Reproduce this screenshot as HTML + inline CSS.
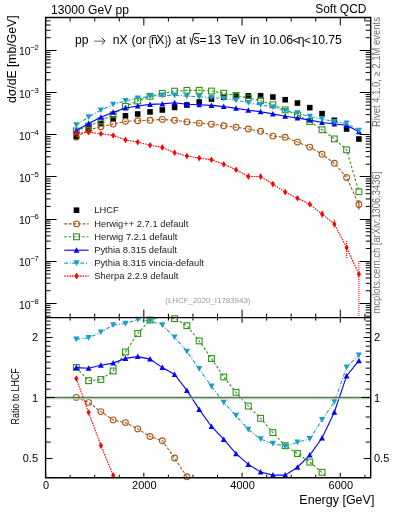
<!DOCTYPE html>
<html><head><meta charset="utf-8"><style>html,body{margin:0;padding:0;background:#fff;overflow:hidden;width:393px;height:512px;}svg{display:block;will-change:transform;}</style></head>
<body><svg width="393" height="512" viewBox="0 0 393 512"><defs><clipPath id="ct"><rect x="45.6" y="17.5" width="325.09999999999997" height="300.1"/></clipPath><clipPath id="cr"><rect x="45.6" y="317.6" width="325.09999999999997" height="160.09999999999997"/></clipPath></defs><rect x="73.50" y="133.94" width="5.6" height="5.6" fill="#000"/><rect x="85.79" y="126.15" width="5.6" height="5.6" fill="#000"/><rect x="98.07" y="120.69" width="5.6" height="5.6" fill="#000"/><rect x="110.36" y="116.30" width="5.6" height="5.6" fill="#000"/><rect x="122.65" y="113.00" width="5.6" height="5.6" fill="#000"/><rect x="134.93" y="111.20" width="5.6" height="5.6" fill="#000"/><rect x="147.22" y="109.09" width="5.6" height="5.6" fill="#000"/><rect x="159.51" y="107.16" width="5.6" height="5.6" fill="#000"/><rect x="171.80" y="104.59" width="5.6" height="5.6" fill="#000"/><rect x="184.08" y="102.22" width="5.6" height="5.6" fill="#000"/><rect x="196.37" y="99.19" width="5.6" height="5.6" fill="#000"/><rect x="208.66" y="96.24" width="5.6" height="5.6" fill="#000"/><rect x="220.94" y="94.45" width="5.6" height="5.6" fill="#000"/><rect x="233.23" y="93.40" width="5.6" height="5.6" fill="#000"/><rect x="245.52" y="93.10" width="5.6" height="5.6" fill="#000"/><rect x="257.80" y="92.97" width="5.6" height="5.6" fill="#000"/><rect x="270.09" y="94.23" width="5.6" height="5.6" fill="#000"/><rect x="282.38" y="96.93" width="5.6" height="5.6" fill="#000"/><rect x="294.67" y="100.27" width="5.6" height="5.6" fill="#000"/><rect x="306.95" y="104.84" width="5.6" height="5.6" fill="#000"/><rect x="319.24" y="110.82" width="5.6" height="5.6" fill="#000"/><rect x="331.53" y="117.47" width="5.6" height="5.6" fill="#000"/><rect x="343.81" y="126.19" width="5.6" height="5.6" fill="#000"/><rect x="356.10" y="136.20" width="5.6" height="5.6" fill="#000"/><g clip-path="url(#ct)"><polyline points="76.30,137.13 88.59,130.11 100.87,126.64 113.16,124.11 125.45,121.35 137.73,120.76 150.02,120.30 162.31,119.39 174.60,120.30 186.88,121.89 199.17,123.10 211.46,124.20 223.74,125.80 236.03,127.30 248.32,129.00 260.60,131.30 272.89,136.10 285.18,137.30 297.47,142.10 309.75,147.10 322.04,154.30 334.33,163.30 346.61,177.50 358.90,204.50" fill="none" stroke="#a85a18" stroke-width="1.1" stroke-dasharray="3,1.6"/></g><circle cx="76.30" cy="137.13" r="2.9" fill="none" stroke="#a85a18" stroke-width="1.1"/><circle cx="88.59" cy="130.11" r="2.9" fill="none" stroke="#a85a18" stroke-width="1.1"/><circle cx="100.87" cy="126.64" r="2.9" fill="none" stroke="#a85a18" stroke-width="1.1"/><circle cx="113.16" cy="124.11" r="2.9" fill="none" stroke="#a85a18" stroke-width="1.1"/><circle cx="125.45" cy="121.35" r="2.9" fill="none" stroke="#a85a18" stroke-width="1.1"/><circle cx="137.73" cy="120.76" r="2.9" fill="none" stroke="#a85a18" stroke-width="1.1"/><circle cx="150.02" cy="120.30" r="2.9" fill="none" stroke="#a85a18" stroke-width="1.1"/><circle cx="162.31" cy="119.39" r="2.9" fill="none" stroke="#a85a18" stroke-width="1.1"/><circle cx="174.60" cy="120.30" r="2.9" fill="none" stroke="#a85a18" stroke-width="1.1"/><circle cx="186.88" cy="121.89" r="2.9" fill="none" stroke="#a85a18" stroke-width="1.1"/><circle cx="199.17" cy="123.10" r="2.9" fill="none" stroke="#a85a18" stroke-width="1.1"/><circle cx="211.46" cy="124.20" r="2.9" fill="none" stroke="#a85a18" stroke-width="1.1"/><circle cx="223.74" cy="125.80" r="2.9" fill="none" stroke="#a85a18" stroke-width="1.1"/><circle cx="236.03" cy="127.30" r="2.9" fill="none" stroke="#a85a18" stroke-width="1.1"/><circle cx="248.32" cy="129.00" r="2.9" fill="none" stroke="#a85a18" stroke-width="1.1"/><circle cx="260.60" cy="131.30" r="2.9" fill="none" stroke="#a85a18" stroke-width="1.1"/><circle cx="272.89" cy="136.10" r="2.9" fill="none" stroke="#a85a18" stroke-width="1.1"/><circle cx="285.18" cy="137.30" r="2.9" fill="none" stroke="#a85a18" stroke-width="1.1"/><circle cx="297.47" cy="142.10" r="2.9" fill="none" stroke="#a85a18" stroke-width="1.1"/><circle cx="309.75" cy="147.10" r="2.9" fill="none" stroke="#a85a18" stroke-width="1.1"/><circle cx="322.04" cy="154.30" r="2.9" fill="none" stroke="#a85a18" stroke-width="1.1"/><circle cx="334.33" cy="163.30" r="2.9" fill="none" stroke="#a85a18" stroke-width="1.1"/><circle cx="346.61" cy="177.50" r="2.9" fill="none" stroke="#a85a18" stroke-width="1.1"/><circle cx="358.90" cy="204.50" r="2.9" fill="none" stroke="#a85a18" stroke-width="1.1"/><g clip-path="url(#ct)"><polyline points="76.30,130.93 88.59,126.11 100.87,120.96 113.16,114.82 125.45,106.38 137.73,100.99 150.02,96.28 162.31,93.40 174.60,91.14 186.88,90.34 199.17,90.41 211.46,91.03 223.74,93.23 236.03,95.45 248.32,98.05 260.60,100.61 272.89,104.74 285.18,109.86 297.47,115.05 309.75,121.48 322.04,129.74 334.33,138.90 346.61,149.80 358.90,191.70" fill="none" stroke="#2f9418" stroke-width="1.1" stroke-dasharray="2.5,2"/></g><rect x="73.40" y="128.03" width="5.8" height="5.8" fill="none" stroke="#2f9418" stroke-width="1.1"/><rect x="85.69" y="123.21" width="5.8" height="5.8" fill="none" stroke="#2f9418" stroke-width="1.1"/><rect x="97.97" y="118.06" width="5.8" height="5.8" fill="none" stroke="#2f9418" stroke-width="1.1"/><rect x="110.26" y="111.92" width="5.8" height="5.8" fill="none" stroke="#2f9418" stroke-width="1.1"/><rect x="122.55" y="103.48" width="5.8" height="5.8" fill="none" stroke="#2f9418" stroke-width="1.1"/><rect x="134.83" y="98.09" width="5.8" height="5.8" fill="none" stroke="#2f9418" stroke-width="1.1"/><rect x="147.12" y="93.38" width="5.8" height="5.8" fill="none" stroke="#2f9418" stroke-width="1.1"/><rect x="159.41" y="90.50" width="5.8" height="5.8" fill="none" stroke="#2f9418" stroke-width="1.1"/><rect x="171.70" y="88.24" width="5.8" height="5.8" fill="none" stroke="#2f9418" stroke-width="1.1"/><rect x="183.98" y="87.44" width="5.8" height="5.8" fill="none" stroke="#2f9418" stroke-width="1.1"/><rect x="196.27" y="87.51" width="5.8" height="5.8" fill="none" stroke="#2f9418" stroke-width="1.1"/><rect x="208.56" y="88.13" width="5.8" height="5.8" fill="none" stroke="#2f9418" stroke-width="1.1"/><rect x="220.84" y="90.33" width="5.8" height="5.8" fill="none" stroke="#2f9418" stroke-width="1.1"/><rect x="233.13" y="92.55" width="5.8" height="5.8" fill="none" stroke="#2f9418" stroke-width="1.1"/><rect x="245.42" y="95.15" width="5.8" height="5.8" fill="none" stroke="#2f9418" stroke-width="1.1"/><rect x="257.70" y="97.71" width="5.8" height="5.8" fill="none" stroke="#2f9418" stroke-width="1.1"/><rect x="269.99" y="101.84" width="5.8" height="5.8" fill="none" stroke="#2f9418" stroke-width="1.1"/><rect x="282.28" y="106.96" width="5.8" height="5.8" fill="none" stroke="#2f9418" stroke-width="1.1"/><rect x="294.57" y="112.15" width="5.8" height="5.8" fill="none" stroke="#2f9418" stroke-width="1.1"/><rect x="306.85" y="118.58" width="5.8" height="5.8" fill="none" stroke="#2f9418" stroke-width="1.1"/><rect x="319.14" y="126.84" width="5.8" height="5.8" fill="none" stroke="#2f9418" stroke-width="1.1"/><rect x="331.43" y="136.00" width="5.8" height="5.8" fill="none" stroke="#2f9418" stroke-width="1.1"/><rect x="343.71" y="146.90" width="5.8" height="5.8" fill="none" stroke="#2f9418" stroke-width="1.1"/><rect x="356.00" y="188.80" width="5.8" height="5.8" fill="none" stroke="#2f9418" stroke-width="1.1"/><g clip-path="url(#ct)"><polyline points="76.30,130.51 88.59,123.49 100.87,117.24 113.16,112.26 125.45,108.02 137.73,105.93 150.02,104.39 162.31,103.92 174.60,102.79 186.88,104.24 199.17,104.71 211.46,105.38 223.74,106.58 236.03,108.35 248.32,110.23 260.60,111.72 272.89,113.91 285.18,116.21 297.47,118.06 309.75,120.12 322.04,122.47 334.33,123.95 346.61,125.25 358.90,131.71" fill="none" stroke="#0000ff" stroke-width="1.1"/></g><path d="M73.40,133.01L79.20,133.01L76.30,127.51Z" fill="#0000ff"/><path d="M85.69,125.99L91.49,125.99L88.59,120.49Z" fill="#0000ff"/><path d="M97.97,119.74L103.77,119.74L100.87,114.24Z" fill="#0000ff"/><path d="M110.26,114.76L116.06,114.76L113.16,109.26Z" fill="#0000ff"/><path d="M122.55,110.52L128.35,110.52L125.45,105.02Z" fill="#0000ff"/><path d="M134.83,108.43L140.63,108.43L137.73,102.93Z" fill="#0000ff"/><path d="M147.12,106.89L152.92,106.89L150.02,101.39Z" fill="#0000ff"/><path d="M159.41,106.42L165.21,106.42L162.31,100.92Z" fill="#0000ff"/><path d="M171.70,105.29L177.50,105.29L174.60,99.79Z" fill="#0000ff"/><path d="M183.98,106.74L189.78,106.74L186.88,101.24Z" fill="#0000ff"/><path d="M196.27,107.21L202.07,107.21L199.17,101.71Z" fill="#0000ff"/><path d="M208.56,107.88L214.36,107.88L211.46,102.38Z" fill="#0000ff"/><path d="M220.84,109.08L226.64,109.08L223.74,103.58Z" fill="#0000ff"/><path d="M233.13,110.85L238.93,110.85L236.03,105.35Z" fill="#0000ff"/><path d="M245.42,112.73L251.22,112.73L248.32,107.23Z" fill="#0000ff"/><path d="M257.70,114.22L263.50,114.22L260.60,108.72Z" fill="#0000ff"/><path d="M269.99,116.41L275.79,116.41L272.89,110.91Z" fill="#0000ff"/><path d="M282.28,118.71L288.08,118.71L285.18,113.21Z" fill="#0000ff"/><path d="M294.57,120.56L300.37,120.56L297.47,115.06Z" fill="#0000ff"/><path d="M306.85,122.62L312.65,122.62L309.75,117.12Z" fill="#0000ff"/><path d="M319.14,124.97L324.94,124.97L322.04,119.47Z" fill="#0000ff"/><path d="M331.43,126.45L337.23,126.45L334.33,120.95Z" fill="#0000ff"/><path d="M343.71,127.75L349.51,127.75L346.61,122.25Z" fill="#0000ff"/><path d="M356.00,134.21L361.80,134.21L358.90,128.71Z" fill="#0000ff"/><g clip-path="url(#ct)"><polyline points="76.30,125.03 88.59,117.04 100.87,110.21 113.16,104.47 125.45,100.87 137.73,98.25 150.02,96.34 162.31,95.40 174.60,95.40 186.88,96.10 199.17,96.80 211.46,97.52 223.74,98.71 236.03,100.30 248.32,102.77 260.60,104.85 272.89,107.20 285.18,110.69 297.47,113.04 309.75,116.66 322.04,118.91 334.33,121.90 346.61,123.40 358.90,130.58" fill="none" stroke="#1a9ec4" stroke-width="1.1" stroke-dasharray="3.8,1.8,1,1.5"/></g><path d="M73.20,122.23L79.40,122.23L76.30,127.93Z" fill="#1a9ec4"/><path d="M85.49,114.24L91.69,114.24L88.59,119.94Z" fill="#1a9ec4"/><path d="M97.77,107.41L103.97,107.41L100.87,113.11Z" fill="#1a9ec4"/><path d="M110.06,101.67L116.26,101.67L113.16,107.37Z" fill="#1a9ec4"/><path d="M122.35,98.07L128.55,98.07L125.45,103.77Z" fill="#1a9ec4"/><path d="M134.63,95.45L140.83,95.45L137.73,101.15Z" fill="#1a9ec4"/><path d="M146.92,93.54L153.12,93.54L150.02,99.24Z" fill="#1a9ec4"/><path d="M159.21,92.60L165.41,92.60L162.31,98.30Z" fill="#1a9ec4"/><path d="M171.50,92.60L177.70,92.60L174.60,98.30Z" fill="#1a9ec4"/><path d="M183.78,93.30L189.98,93.30L186.88,99.00Z" fill="#1a9ec4"/><path d="M196.07,94.00L202.27,94.00L199.17,99.70Z" fill="#1a9ec4"/><path d="M208.36,94.72L214.56,94.72L211.46,100.42Z" fill="#1a9ec4"/><path d="M220.64,95.91L226.84,95.91L223.74,101.61Z" fill="#1a9ec4"/><path d="M232.93,97.50L239.13,97.50L236.03,103.20Z" fill="#1a9ec4"/><path d="M245.22,99.97L251.42,99.97L248.32,105.67Z" fill="#1a9ec4"/><path d="M257.50,102.05L263.70,102.05L260.60,107.75Z" fill="#1a9ec4"/><path d="M269.79,104.40L275.99,104.40L272.89,110.10Z" fill="#1a9ec4"/><path d="M282.08,107.89L288.28,107.89L285.18,113.59Z" fill="#1a9ec4"/><path d="M294.37,110.24L300.57,110.24L297.47,115.94Z" fill="#1a9ec4"/><path d="M306.65,113.86L312.85,113.86L309.75,119.56Z" fill="#1a9ec4"/><path d="M318.94,116.11L325.14,116.11L322.04,121.81Z" fill="#1a9ec4"/><path d="M331.23,119.10L337.43,119.10L334.33,124.80Z" fill="#1a9ec4"/><path d="M343.51,120.60L349.71,120.60L346.61,126.30Z" fill="#1a9ec4"/><path d="M355.80,127.78L362.00,127.78L358.90,133.48Z" fill="#1a9ec4"/><g clip-path="url(#ct)"><polyline points="76.30,133.36 88.59,132.28 100.87,133.76 113.16,135.49 125.45,139.90 137.73,142.10 150.02,145.20 162.31,147.40 174.60,152.80 186.88,156.00 199.17,158.10 211.46,159.70 223.74,164.20 236.03,169.70 248.32,176.40 260.60,176.60 272.89,184.10 285.18,192.10 297.47,198.20 309.75,204.30 322.04,214.10 334.33,224.10 346.61,247.60 358.90,274.20" fill="none" stroke="#ff0000" stroke-width="1.1" stroke-dasharray="1.6,1"/></g><path d="M76.30,130.06L78.40,133.36L76.30,136.66L74.20,133.36Z" fill="#ff0000"/><path d="M88.59,128.98L90.69,132.28L88.59,135.58L86.49,132.28Z" fill="#ff0000"/><path d="M100.87,130.46L102.97,133.76L100.87,137.06L98.77,133.76Z" fill="#ff0000"/><path d="M113.16,132.19L115.26,135.49L113.16,138.79L111.06,135.49Z" fill="#ff0000"/><path d="M125.45,136.60L127.55,139.90L125.45,143.20L123.35,139.90Z" fill="#ff0000"/><path d="M137.73,138.80L139.83,142.10L137.73,145.40L135.63,142.10Z" fill="#ff0000"/><path d="M150.02,141.90L152.12,145.20L150.02,148.50L147.92,145.20Z" fill="#ff0000"/><path d="M162.31,144.10L164.41,147.40L162.31,150.70L160.21,147.40Z" fill="#ff0000"/><path d="M174.60,149.50L176.70,152.80L174.60,156.10L172.50,152.80Z" fill="#ff0000"/><path d="M186.88,152.70L188.98,156.00L186.88,159.30L184.78,156.00Z" fill="#ff0000"/><path d="M199.17,154.80L201.27,158.10L199.17,161.40L197.07,158.10Z" fill="#ff0000"/><path d="M211.46,156.40L213.56,159.70L211.46,163.00L209.36,159.70Z" fill="#ff0000"/><path d="M223.74,160.90L225.84,164.20L223.74,167.50L221.64,164.20Z" fill="#ff0000"/><path d="M236.03,166.40L238.13,169.70L236.03,173.00L233.93,169.70Z" fill="#ff0000"/><path d="M248.32,173.10L250.42,176.40L248.32,179.70L246.22,176.40Z" fill="#ff0000"/><path d="M260.60,173.30L262.70,176.60L260.60,179.90L258.50,176.60Z" fill="#ff0000"/><path d="M272.89,180.80L274.99,184.10L272.89,187.40L270.79,184.10Z" fill="#ff0000"/><path d="M285.18,188.80L287.28,192.10L285.18,195.40L283.08,192.10Z" fill="#ff0000"/><path d="M297.47,194.90L299.57,198.20L297.47,201.50L295.37,198.20Z" fill="#ff0000"/><path d="M309.75,201.00L311.85,204.30L309.75,207.60L307.65,204.30Z" fill="#ff0000"/><path d="M322.04,210.80L324.14,214.10L322.04,217.40L319.94,214.10Z" fill="#ff0000"/><path d="M334.33,220.80L336.43,224.10L334.33,227.40L332.23,224.10Z" fill="#ff0000"/><path d="M346.61,244.30L348.71,247.60L346.61,250.90L344.51,247.60Z" fill="#ff0000"/><path d="M358.90,270.90L361.00,274.20L358.90,277.50L356.80,274.20Z" fill="#ff0000"/><line x1="358.90" y1="200" x2="358.90" y2="209.8" stroke="#a85a18" stroke-width="1.2"/><line x1="322.04" y1="210.8" x2="322.04" y2="218.4" stroke="#ff0000" stroke-width="1" stroke-dasharray="1,1"/><line x1="334.33" y1="219.5" x2="334.33" y2="228" stroke="#ff0000" stroke-width="1" stroke-dasharray="1,1"/><line x1="346.61" y1="241" x2="346.61" y2="258" stroke="#ff0000" stroke-width="1" stroke-dasharray="1,1"/><line x1="358.90" y1="261" x2="358.90" y2="317.6" stroke="#ff0000" stroke-width="1" stroke-dasharray="1,1"/><g clip-path="url(#cr)"><polyline points="76.30,397.40 88.59,402.40 100.87,411.60 113.16,419.90 125.45,422.60 137.73,428.90 150.02,436.50 162.31,440.80 174.60,458.00 186.88,476.80 199.17,497.17 211.46,516.46 223.74,532.66 236.03,544.85 248.32,554.37 260.60,565.99 272.89,582.90 285.18,575.74 297.47,582.68 309.75,584.76 322.04,590.58 334.33,601.80 346.61,627.93 358.90,709.05" fill="none" stroke="#a85a18" stroke-width="1.1" stroke-dasharray="3,1.6"/></g><circle cx="76.30" cy="397.40" r="2.9" fill="none" stroke="#a85a18" stroke-width="1.1"/><circle cx="88.59" cy="402.40" r="2.9" fill="none" stroke="#a85a18" stroke-width="1.1"/><circle cx="100.87" cy="411.60" r="2.9" fill="none" stroke="#a85a18" stroke-width="1.1"/><circle cx="113.16" cy="419.90" r="2.9" fill="none" stroke="#a85a18" stroke-width="1.1"/><circle cx="125.45" cy="422.60" r="2.9" fill="none" stroke="#a85a18" stroke-width="1.1"/><circle cx="137.73" cy="428.90" r="2.9" fill="none" stroke="#a85a18" stroke-width="1.1"/><circle cx="150.02" cy="436.50" r="2.9" fill="none" stroke="#a85a18" stroke-width="1.1"/><circle cx="162.31" cy="440.80" r="2.9" fill="none" stroke="#a85a18" stroke-width="1.1"/><circle cx="174.60" cy="458.00" r="2.9" fill="none" stroke="#a85a18" stroke-width="1.1"/><circle cx="186.88" cy="476.80" r="2.9" fill="none" stroke="#a85a18" stroke-width="1.1"/><g clip-path="url(#cr)"><polyline points="76.30,367.50 88.59,380.70 100.87,379.50 113.16,371.00 125.45,352.00 137.73,333.50 150.02,320.00 162.31,316.54 174.60,318.70 186.88,325.70 199.17,340.90 211.46,358.50 223.74,377.00 236.03,392.30 248.32,406.10 260.60,418.30 272.89,432.60 285.18,445.70 297.47,453.50 309.75,462.10 322.04,472.30 334.33,484.56 346.61,494.94 358.90,647.19" fill="none" stroke="#2f9418" stroke-width="1.1" stroke-dasharray="2.5,2"/></g><rect x="73.40" y="364.60" width="5.8" height="5.8" fill="none" stroke="#2f9418" stroke-width="1.1"/><rect x="85.69" y="377.80" width="5.8" height="5.8" fill="none" stroke="#2f9418" stroke-width="1.1"/><rect x="97.97" y="376.60" width="5.8" height="5.8" fill="none" stroke="#2f9418" stroke-width="1.1"/><rect x="110.26" y="368.10" width="5.8" height="5.8" fill="none" stroke="#2f9418" stroke-width="1.1"/><rect x="122.55" y="349.10" width="5.8" height="5.8" fill="none" stroke="#2f9418" stroke-width="1.1"/><rect x="134.83" y="330.60" width="5.8" height="5.8" fill="none" stroke="#2f9418" stroke-width="1.1"/><rect x="147.12" y="317.10" width="5.8" height="5.8" fill="none" stroke="#2f9418" stroke-width="1.1"/><rect x="171.70" y="315.80" width="5.8" height="5.8" fill="none" stroke="#2f9418" stroke-width="1.1"/><rect x="183.98" y="322.80" width="5.8" height="5.8" fill="none" stroke="#2f9418" stroke-width="1.1"/><rect x="196.27" y="338.00" width="5.8" height="5.8" fill="none" stroke="#2f9418" stroke-width="1.1"/><rect x="208.56" y="355.60" width="5.8" height="5.8" fill="none" stroke="#2f9418" stroke-width="1.1"/><rect x="220.84" y="374.10" width="5.8" height="5.8" fill="none" stroke="#2f9418" stroke-width="1.1"/><rect x="233.13" y="389.40" width="5.8" height="5.8" fill="none" stroke="#2f9418" stroke-width="1.1"/><rect x="245.42" y="403.20" width="5.8" height="5.8" fill="none" stroke="#2f9418" stroke-width="1.1"/><rect x="257.70" y="415.40" width="5.8" height="5.8" fill="none" stroke="#2f9418" stroke-width="1.1"/><rect x="269.99" y="429.70" width="5.8" height="5.8" fill="none" stroke="#2f9418" stroke-width="1.1"/><rect x="282.28" y="442.80" width="5.8" height="5.8" fill="none" stroke="#2f9418" stroke-width="1.1"/><rect x="294.57" y="450.60" width="5.8" height="5.8" fill="none" stroke="#2f9418" stroke-width="1.1"/><rect x="306.85" y="459.20" width="5.8" height="5.8" fill="none" stroke="#2f9418" stroke-width="1.1"/><rect x="319.14" y="469.40" width="5.8" height="5.8" fill="none" stroke="#2f9418" stroke-width="1.1"/><g clip-path="url(#cr)"><polyline points="76.30,367.60 88.59,368.30 100.87,365.30 113.16,363.10 125.45,358.40 137.73,356.60 150.02,359.10 162.31,367.60 174.60,374.40 186.88,390.40 199.17,409.40 211.46,426.50 223.74,439.40 236.03,453.70 248.32,464.40 260.60,472.10 272.89,475.10 285.18,475.10 297.47,467.20 309.75,455.10 322.04,438.00 334.33,412.30 346.61,375.90 358.90,360.70" fill="none" stroke="#0000ff" stroke-width="1.1"/></g><path d="M73.40,370.10L79.20,370.10L76.30,364.60Z" fill="#0000ff"/><path d="M85.69,370.80L91.49,370.80L88.59,365.30Z" fill="#0000ff"/><path d="M97.97,367.80L103.77,367.80L100.87,362.30Z" fill="#0000ff"/><path d="M110.26,365.60L116.06,365.60L113.16,360.10Z" fill="#0000ff"/><path d="M122.55,360.90L128.35,360.90L125.45,355.40Z" fill="#0000ff"/><path d="M134.83,359.10L140.63,359.10L137.73,353.60Z" fill="#0000ff"/><path d="M147.12,361.60L152.92,361.60L150.02,356.10Z" fill="#0000ff"/><path d="M159.41,370.10L165.21,370.10L162.31,364.60Z" fill="#0000ff"/><path d="M171.70,376.90L177.50,376.90L174.60,371.40Z" fill="#0000ff"/><path d="M183.98,392.90L189.78,392.90L186.88,387.40Z" fill="#0000ff"/><path d="M196.27,411.90L202.07,411.90L199.17,406.40Z" fill="#0000ff"/><path d="M208.56,429.00L214.36,429.00L211.46,423.50Z" fill="#0000ff"/><path d="M220.84,441.90L226.64,441.90L223.74,436.40Z" fill="#0000ff"/><path d="M233.13,456.20L238.93,456.20L236.03,450.70Z" fill="#0000ff"/><path d="M245.42,466.90L251.22,466.90L248.32,461.40Z" fill="#0000ff"/><path d="M257.70,474.60L263.50,474.60L260.60,469.10Z" fill="#0000ff"/><path d="M269.99,477.60L275.79,477.60L272.89,472.10Z" fill="#0000ff"/><path d="M282.28,477.60L288.08,477.60L285.18,472.10Z" fill="#0000ff"/><path d="M294.57,469.70L300.37,469.70L297.47,464.20Z" fill="#0000ff"/><path d="M306.85,457.60L312.65,457.60L309.75,452.10Z" fill="#0000ff"/><path d="M319.14,440.50L324.94,440.50L322.04,435.00Z" fill="#0000ff"/><path d="M331.43,414.80L337.23,414.80L334.33,409.30Z" fill="#0000ff"/><path d="M343.71,378.40L349.51,378.40L346.61,372.90Z" fill="#0000ff"/><path d="M356.00,363.20L361.80,363.20L358.90,357.70Z" fill="#0000ff"/><g clip-path="url(#cr)"><polyline points="76.30,339.30 88.59,337.90 100.87,332.20 113.16,325.10 125.45,323.60 137.73,319.60 150.02,321.00 162.31,325.10 174.60,337.30 186.88,351.50 199.17,368.90 211.46,386.40 223.74,402.60 236.03,415.60 248.32,429.60 260.60,439.10 272.89,443.60 285.18,446.40 297.47,442.40 309.75,438.90 322.04,419.90 334.33,401.90 346.61,367.40 358.90,355.20" fill="none" stroke="#1a9ec4" stroke-width="1.1" stroke-dasharray="3.8,1.8,1,1.5"/></g><path d="M73.20,336.50L79.40,336.50L76.30,342.20Z" fill="#1a9ec4"/><path d="M85.49,335.10L91.69,335.10L88.59,340.80Z" fill="#1a9ec4"/><path d="M97.77,329.40L103.97,329.40L100.87,335.10Z" fill="#1a9ec4"/><path d="M110.06,322.30L116.26,322.30L113.16,328.00Z" fill="#1a9ec4"/><path d="M122.35,320.80L128.55,320.80L125.45,326.50Z" fill="#1a9ec4"/><path d="M134.63,316.80L140.83,316.80L137.73,322.50Z" fill="#1a9ec4"/><path d="M146.92,318.20L153.12,318.20L150.02,323.90Z" fill="#1a9ec4"/><path d="M159.21,322.30L165.41,322.30L162.31,328.00Z" fill="#1a9ec4"/><path d="M171.50,334.50L177.70,334.50L174.60,340.20Z" fill="#1a9ec4"/><path d="M183.78,348.70L189.98,348.70L186.88,354.40Z" fill="#1a9ec4"/><path d="M196.07,366.10L202.27,366.10L199.17,371.80Z" fill="#1a9ec4"/><path d="M208.36,383.60L214.56,383.60L211.46,389.30Z" fill="#1a9ec4"/><path d="M220.64,399.80L226.84,399.80L223.74,405.50Z" fill="#1a9ec4"/><path d="M232.93,412.80L239.13,412.80L236.03,418.50Z" fill="#1a9ec4"/><path d="M245.22,426.80L251.42,426.80L248.32,432.50Z" fill="#1a9ec4"/><path d="M257.50,436.30L263.70,436.30L260.60,442.00Z" fill="#1a9ec4"/><path d="M269.79,440.80L275.99,440.80L272.89,446.50Z" fill="#1a9ec4"/><path d="M282.08,443.60L288.28,443.60L285.18,449.30Z" fill="#1a9ec4"/><path d="M294.37,439.60L300.57,439.60L297.47,445.30Z" fill="#1a9ec4"/><path d="M306.65,436.10L312.85,436.10L309.75,441.80Z" fill="#1a9ec4"/><path d="M318.94,417.10L325.14,417.10L322.04,422.80Z" fill="#1a9ec4"/><path d="M331.23,399.10L337.43,399.10L334.33,404.80Z" fill="#1a9ec4"/><path d="M343.51,364.60L349.71,364.60L346.61,370.30Z" fill="#1a9ec4"/><path d="M355.80,352.40L362.00,352.40L358.90,358.10Z" fill="#1a9ec4"/><g clip-path="url(#cr)"><polyline points="76.30,378.50 88.59,412.50 100.87,445.60 113.16,475.40 125.45,511.79 137.73,530.89 150.02,555.74 162.31,575.46 174.60,613.53 186.88,640.09 199.17,664.63 211.46,686.30 223.74,716.35 236.03,747.63 248.32,781.03 260.60,782.62 272.89,812.42 285.18,837.72 297.47,850.86 309.75,858.20 322.04,876.43 334.33,892.42 346.61,962.95 358.90,1042.16" fill="none" stroke="#ff0000" stroke-width="1.1" stroke-dasharray="1.6,1"/></g><path d="M76.30,375.20L78.40,378.50L76.30,381.80L74.20,378.50Z" fill="#ff0000"/><path d="M88.59,409.20L90.69,412.50L88.59,415.80L86.49,412.50Z" fill="#ff0000"/><path d="M100.87,442.30L102.97,445.60L100.87,448.90L98.77,445.60Z" fill="#ff0000"/><path d="M113.16,472.10L115.26,475.40L113.16,478.70L111.06,475.40Z" fill="#ff0000"/><line x1="45.6" y1="398.9" x2="370.7" y2="398.9" stroke="#d0d0d0" stroke-width="1"/><line x1="45.6" y1="397.5" x2="370.7" y2="397.5" stroke="#537a4a" stroke-width="1.7"/><path d="M45.6,316.11h5M370.7,316.11h-5M45.6,312.78h5M370.7,312.78h-5M45.6,309.95h5M370.7,309.95h-5M45.6,307.51h5M370.7,307.51h-5M45.6,305.35h5M370.7,305.35h-5M45.6,303.50h11M370.7,303.50h-11M45.6,290.73h5M370.7,290.73h-5M45.6,283.30h5M370.7,283.30h-5M45.6,278.03h5M370.7,278.03h-5M45.6,273.94h5M370.7,273.94h-5M45.6,270.61h5M370.7,270.61h-5M45.6,267.78h5M370.7,267.78h-5M45.6,265.34h5M370.7,265.34h-5M45.6,263.18h5M370.7,263.18h-5M45.6,261.50h11M370.7,261.50h-11M45.6,248.56h5M370.7,248.56h-5M45.6,241.13h5M370.7,241.13h-5M45.6,235.86h5M370.7,235.86h-5M45.6,231.77h5M370.7,231.77h-5M45.6,228.44h5M370.7,228.44h-5M45.6,225.61h5M370.7,225.61h-5M45.6,223.17h5M370.7,223.17h-5M45.6,221.01h5M370.7,221.01h-5M45.6,219.50h11M370.7,219.50h-11M45.6,206.39h5M370.7,206.39h-5M45.6,198.96h5M370.7,198.96h-5M45.6,193.69h5M370.7,193.69h-5M45.6,189.60h5M370.7,189.60h-5M45.6,186.27h5M370.7,186.27h-5M45.6,183.44h5M370.7,183.44h-5M45.6,181.00h5M370.7,181.00h-5M45.6,178.84h5M370.7,178.84h-5M45.6,176.50h11M370.7,176.50h-11M45.6,164.22h5M370.7,164.22h-5M45.6,156.79h5M370.7,156.79h-5M45.6,151.52h5M370.7,151.52h-5M45.6,147.43h5M370.7,147.43h-5M45.6,144.10h5M370.7,144.10h-5M45.6,141.27h5M370.7,141.27h-5M45.6,138.83h5M370.7,138.83h-5M45.6,136.67h5M370.7,136.67h-5M45.6,134.50h11M370.7,134.50h-11M45.6,122.05h5M370.7,122.05h-5M45.6,114.62h5M370.7,114.62h-5M45.6,109.35h5M370.7,109.35h-5M45.6,105.26h5M370.7,105.26h-5M45.6,101.93h5M370.7,101.93h-5M45.6,99.10h5M370.7,99.10h-5M45.6,96.66h5M370.7,96.66h-5M45.6,94.50h5M370.7,94.50h-5M45.6,92.50h11M370.7,92.50h-11M45.6,79.88h5M370.7,79.88h-5M45.6,72.45h5M370.7,72.45h-5M45.6,67.18h5M370.7,67.18h-5M45.6,63.09h5M370.7,63.09h-5M45.6,59.76h5M370.7,59.76h-5M45.6,56.93h5M370.7,56.93h-5M45.6,54.49h5M370.7,54.49h-5M45.6,52.33h5M370.7,52.33h-5M45.6,50.50h11M370.7,50.50h-11M45.6,37.71h5M370.7,37.71h-5M45.6,30.28h5M370.7,30.28h-5M45.6,25.01h5M370.7,25.01h-5M45.6,20.92h5M370.7,20.92h-5M45.6,17.59h5M370.7,17.59h-5M45.6,477.48h5M370.7,477.48h-5M45.6,458.50h7M370.7,458.50h-7M45.6,442.09h5M370.7,442.09h-5M45.6,428.63h5M370.7,428.63h-5M45.6,416.98h5M370.7,416.98h-5M45.6,406.70h5M370.7,406.70h-5M45.6,397.50h9M370.7,397.50h-9M45.6,389.18h5M370.7,389.18h-5M45.6,381.59h5M370.7,381.59h-5M45.6,374.60h5M370.7,374.60h-5M45.6,368.13h5M370.7,368.13h-5M45.6,362.11h5M370.7,362.11h-5M45.6,356.48h5M370.7,356.48h-5M45.6,351.19h5M370.7,351.19h-5M45.6,346.20h5M370.7,346.20h-5M45.6,341.48h5M370.7,341.48h-5M45.6,337.50h7M370.7,337.50h-7M45.6,332.74h5M370.7,332.74h-5M45.6,328.68h5M370.7,328.68h-5M45.6,324.80h5M370.7,324.80h-5M45.6,321.09h5M370.7,321.09h-5M45.6,317.52h5M370.7,317.52h-5M45.60,17.5v8M45.60,317.6v-8M45.60,317.6v5M45.60,477.7v-5M70.16,17.5v4M70.16,317.6v-4M70.16,317.6v3M70.16,477.7v-3M94.72,17.5v4M94.72,317.6v-4M94.72,317.6v3M94.72,477.7v-3M119.28,17.5v4M119.28,317.6v-4M119.28,317.6v3M119.28,477.7v-3M143.83,17.5v8M143.83,317.6v-8M143.83,317.6v5M143.83,477.7v-5M168.39,17.5v4M168.39,317.6v-4M168.39,317.6v3M168.39,477.7v-3M192.95,17.5v4M192.95,317.6v-4M192.95,317.6v3M192.95,477.7v-3M217.51,17.5v4M217.51,317.6v-4M217.51,317.6v3M217.51,477.7v-3M242.07,17.5v8M242.07,317.6v-8M242.07,317.6v5M242.07,477.7v-5M266.62,17.5v4M266.62,317.6v-4M266.62,317.6v3M266.62,477.7v-3M291.18,17.5v4M291.18,317.6v-4M291.18,317.6v3M291.18,477.7v-3M315.74,17.5v4M315.74,317.6v-4M315.74,317.6v3M315.74,477.7v-3M340.30,17.5v8M340.30,317.6v-8M340.30,317.6v5M340.30,477.7v-5M364.86,17.5v4M364.86,317.6v-4M364.86,317.6v3M364.86,477.7v-3" stroke="#000" stroke-width="1" fill="none"/><path d="M45.6,17.5H370.7V477.7H45.6Z" fill="none" stroke="#000" stroke-width="1.4"/><line x1="45.6" y1="317.6" x2="370.7" y2="317.6" stroke="#000" stroke-width="1.4"/><g font-family="Liberation Sans"><text x="51" y="14.2" font-size="12.1" text-anchor="start" fill="#000" >13000 GeV pp</text><text x="366.5" y="13.4" font-size="12" text-anchor="end" fill="#000" >Soft QCD</text><text x="30.6" y="54.70" font-size="10.5" text-anchor="end">10</text><text x="30.4" y="49.70" font-size="8">&#8722;</text><text x="34.4" y="49.70" font-size="7.6">2</text><text x="30.6" y="97.67" font-size="10.5" text-anchor="end">10</text><text x="30.4" y="92.67" font-size="8">&#8722;</text><text x="34.4" y="92.67" font-size="7.6">3</text><text x="30.6" y="139.84" font-size="10.5" text-anchor="end">10</text><text x="30.4" y="134.84" font-size="8">&#8722;</text><text x="34.4" y="134.84" font-size="7.6">4</text><text x="30.6" y="182.01" font-size="10.5" text-anchor="end">10</text><text x="30.4" y="177.01" font-size="8">&#8722;</text><text x="34.4" y="177.01" font-size="7.6">5</text><text x="30.6" y="224.18" font-size="10.5" text-anchor="end">10</text><text x="30.4" y="219.18" font-size="8">&#8722;</text><text x="34.4" y="219.18" font-size="7.6">6</text><text x="30.6" y="266.35" font-size="10.5" text-anchor="end">10</text><text x="30.4" y="261.35" font-size="8">&#8722;</text><text x="34.4" y="261.35" font-size="7.6">7</text><text x="30.6" y="308.52" font-size="10.5" text-anchor="end">10</text><text x="30.4" y="303.52" font-size="8">&#8722;</text><text x="34.4" y="303.52" font-size="7.6">8</text><text x="38" y="341.00" font-size="11" text-anchor="end" fill="#000" >2</text><text x="374" y="341.00" font-size="11" text-anchor="start" fill="#000" >2</text><text x="38" y="401.50" font-size="11" text-anchor="end" fill="#000" >1</text><text x="374" y="401.50" font-size="11" text-anchor="start" fill="#000" >1</text><text x="38" y="462.00" font-size="11" text-anchor="end" fill="#000" >0.5</text><text x="374" y="462.00" font-size="11" text-anchor="start" fill="#000" >0.5</text><text x="46.10" y="489" font-size="11" text-anchor="middle" fill="#000" >0</text><text x="144.33" y="489" font-size="11" text-anchor="middle" fill="#000" >2000</text><text x="242.57" y="489" font-size="11" text-anchor="middle" fill="#000" >4000</text><text x="340.80" y="489" font-size="11" text-anchor="middle" fill="#000" >6000</text><text x="374.4" y="504.0" font-size="12.5" text-anchor="end" fill="#000" >Energy [GeV]</text><text transform="translate(16.4,103.1) rotate(-90)" font-size="12.22">d&#963;/dE [mb/GeV]</text><text transform="translate(19.2,424.4) rotate(-90) scale(0.87,1)" font-size="10.2">Ratio to LHCF</text><text transform="translate(380.2,127) rotate(-90) scale(0.93,1)" font-size="10.2" fill="#707070">Rivet 4.1.0, &#8805; 2.1M events</text><text transform="translate(380.2,313.5) rotate(-90) scale(0.92,1)" font-size="10.2" fill="#707070">mcplots.cern.ch [arXiv:1306.3436]</text><text x="165.3" y="302.5" font-size="7.9" text-anchor="start" fill="#999" >(LHCF_2020_I1783943)</text><text x="75" y="44.2" font-size="12.2" text-anchor="start" fill="#000" >pp</text><path d="M94.1,41.2H104" stroke="#999" stroke-width="1.5" fill="none"/><path d="M101.8,37.9L105.1,41.2L101.8,44.4" stroke="#222" stroke-width="1" fill="none"/><text x="112.8" y="44.2" font-size="12.2" text-anchor="start" fill="#000" >nX</text><text x="131.4" y="44.2" font-size="12.2" text-anchor="start" fill="#000" >(or</text><text transform="translate(148.6,44.6) scale(0.75,1)" font-size="12.4" fill="#333">{</text><text x="151" y="44.2" font-size="12.2" text-anchor="start" fill="#000" >n</text><line x1="151.4" y1="35.6" x2="156" y2="35.6" stroke="#000" stroke-width="0.9"/><text x="156.3" y="44.2" font-size="12.2" text-anchor="start" fill="#000" >X</text><text transform="translate(164.8,44.6) scale(0.75,1)" font-size="12.4" fill="#333">}</text><text x="167.3" y="44.2" font-size="12.2" text-anchor="start" fill="#000" >)</text><text x="175.8" y="44.2" font-size="12.2" text-anchor="start" fill="#000" >at</text><path d="M189.9,37.6L191.5,44.3L193.8,33.6H199.8" stroke="#000" stroke-width="0.9" fill="none"/><text x="193.4" y="44.2" font-size="12.2" text-anchor="start" fill="#000" >s</text><text x="199.6" y="44.2" font-size="12.2" text-anchor="start" fill="#000" >=</text><text x="207.4" y="44.2" font-size="12.2" text-anchor="start" fill="#000" >13</text><text x="224.6" y="44.2" font-size="12.2" text-anchor="start" fill="#000" >TeV</text><text x="250" y="44.2" font-size="12.2" text-anchor="start" fill="#000" >in</text><text x="262.6" y="44.2" font-size="12.2" text-anchor="start" fill="#000" >10.06</text><text x="292.6" y="44.2" font-size="11.8" text-anchor="start" fill="#000" >&lt;</text><text x="297.7" y="44.2" font-size="12.2" text-anchor="start" fill="#000" >&#951;</text><text x="304.0" y="44.2" font-size="11.8" text-anchor="start" fill="#000" >&lt;</text><text x="311.4" y="44.2" font-size="12.2" text-anchor="start" fill="#000" >10.75</text></g><rect x="73.70" y="207.40" width="5.6" height="5.6" fill="#000"/><line x1="64.2" y1="223.9" x2="88.6" y2="223.9" stroke="#a85a18" stroke-width="1.1" stroke-dasharray="3,1.6"/><circle cx="76.50" cy="223.90" r="2.9" fill="none" stroke="#a85a18" stroke-width="1.1"/><line x1="64.2" y1="236.8" x2="88.6" y2="236.8" stroke="#2f9418" stroke-width="1.1" stroke-dasharray="2.5,2"/><rect x="73.60" y="233.90" width="5.8" height="5.8" fill="none" stroke="#2f9418" stroke-width="1.1"/><line x1="64.2" y1="250.2" x2="88.6" y2="250.2" stroke="#0000ff" stroke-width="1.1"/><path d="M73.60,252.70L79.40,252.70L76.50,247.20Z" fill="#0000ff"/><line x1="64.2" y1="263.1" x2="88.6" y2="263.1" stroke="#1a9ec4" stroke-width="1.1" stroke-dasharray="3.8,1.8,1,1.5"/><path d="M73.40,260.30L79.60,260.30L76.50,266.00Z" fill="#1a9ec4"/><line x1="64.2" y1="276.1" x2="88.6" y2="276.1" stroke="#ff0000" stroke-width="1.1" stroke-dasharray="1.6,1"/><path d="M76.50,272.80L78.60,276.10L76.50,279.40L74.40,276.10Z" fill="#ff0000"/><g font-family="Liberation Sans"><text transform="translate(94.2,213.4) scale(0.945,1)" font-size="9.9" fill="#1a1a1a">LHCF</text><text transform="translate(94.2,227.1) scale(0.945,1)" font-size="9.9" fill="#1a1a1a">Herwig++ 2.7.1 default</text><text transform="translate(94.2,240.0) scale(0.945,1)" font-size="9.9" fill="#1a1a1a">Herwig 7.2.1 default</text><text transform="translate(94.2,253.4) scale(0.945,1)" font-size="9.9" fill="#1a1a1a">Pythia 8.315 default</text><text transform="translate(94.2,266.3) scale(0.945,1)" font-size="9.9" fill="#1a1a1a">Pythia 8.315 vincia-default</text><text transform="translate(94.2,279.3) scale(0.945,1)" font-size="9.9" fill="#1a1a1a">Sherpa 2.2.9 default</text></g></svg></body></html>
